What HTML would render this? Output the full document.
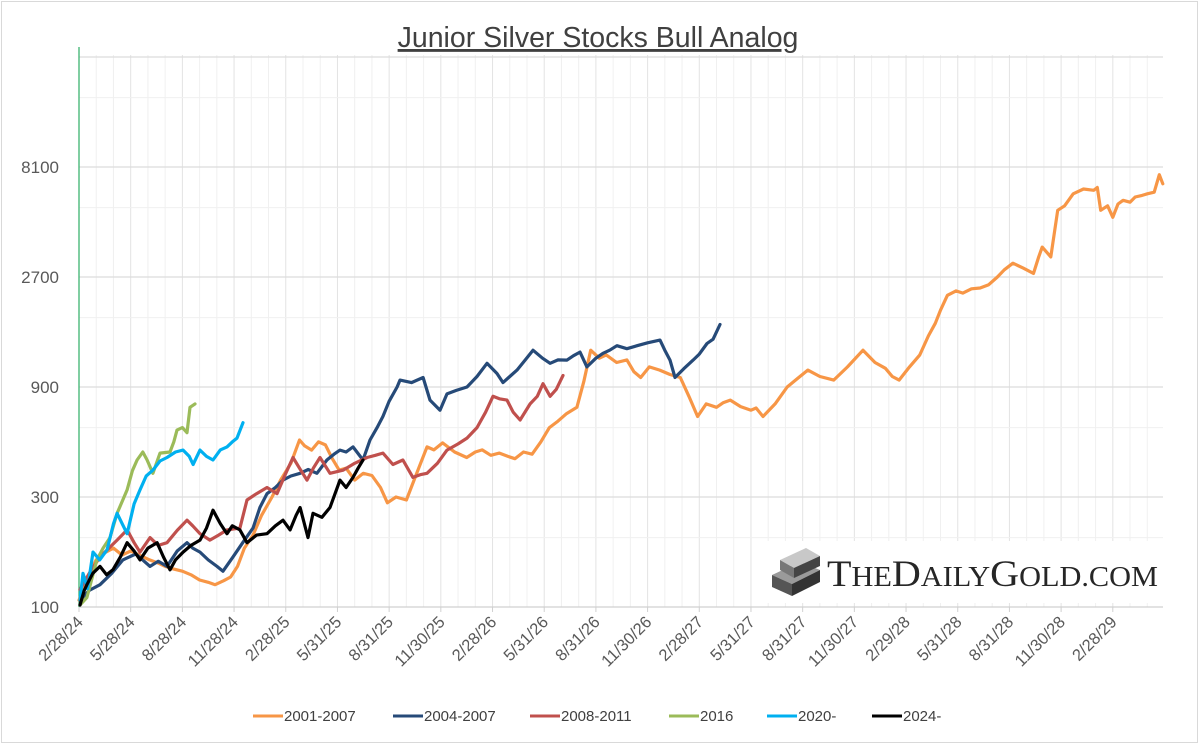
<!DOCTYPE html>
<html><head><meta charset="utf-8"><style>
body{margin:0;background:#fff;}
svg{display:block;font-family:"Liberation Sans",sans-serif;}
</style></head><body>
<svg id="chart" width="1200" height="745" viewBox="0 0 1200 745">
<rect x="1.5" y="1.5" width="1196" height="741" fill="#fff" stroke="#d9d9d9"/>
<text x="598" y="47" text-anchor="middle" font-size="28.5" fill="#404040" text-decoration="underline">Junior Silver Stocks Bull Analog</text>
<g id="grid"></g>
<g id="logo">
<rect x="762" y="541" width="400" height="62" fill="#fff"/>
<g>
<polygon points="772,575 800,562 820,570 792,584" fill="#9a9a9a"/>
<polygon points="772,575 792,584 792,596 772,587" fill="#555"/>
<polygon points="792,584 820,570 820,582 792,596" fill="#333"/>
<polygon points="780,560 806,548 820,556 794,568" fill="#c8c8c8"/>
<polygon points="780,560 794,568 794,578 780,570" fill="#777"/>
<polygon points="794,568 820,556 820,566 794,578" fill="#444"/>
</g>
<text x="827" y="586" font-family="'Liberation Serif',serif" font-size="37" fill="#262626" textLength="331" lengthAdjust="spacingAndGlyphs">T<tspan font-size="28">HE</tspan>D<tspan font-size="28">AILY</tspan>G<tspan font-size="28">OLD.COM</tspan></text>
</g>
<g id="axes"></g>
<g id="series"></g>
<g id="legend"></g>
</svg>
<script>
// ---- data ----
const yTicks = [100, 300, 900, 2700, 8100];
const xTickLabels = ["2/28/24","5/28/24","8/28/24","11/28/24","2/28/25","5/31/25","8/31/25","11/30/25","2/28/26","5/31/26","8/31/26","11/30/26","2/28/27","5/31/27","8/31/27","11/30/27","2/29/28","5/31/28","8/31/28","11/30/28","2/28/29"];
const seriesNames = ["2001-2007","2004-2007","2008-2011","2016","2020-","2024-"];
const seriesColors = ["#f79646","#264a78","#c0504d","#9bbb59","#00b0f0","#000000"];

const m2001 = [0,0.5,1,1.5,2,2.5,3,3.5,4.1,4.6,5,5.5,6,6.5,7,7.5,7.9,8.4,8.8,9.2,9.6,10.1,10.6,11.2,11.7,12.3,12.8,13.1,13.5,13.9,14.3,14.7,15.1,15.5,16,16.5,17,17.5,17.9,18.4,19,19.6,20.2,20.6,21.1,21.8,22.5,23,23.4,23.9,24.4,24.9,25.3,25.8,26.3,26.8,27.3,27.8,28.3,28.9,29.3,29.7,30.2,30.6,31.2,31.8,32.2,32.6,33.1,33.7,34.3,34.9,35.4,35.9,36.4,37,37.4,37.8,38.4,39,39.3,39.7,40.4,41.1,41.7,42.3,43,43.8,44.6,45.5,46.2,46.8,47.2,47.6,48.2,48.8,49.3,49.7,50,50.4,50.9,51.3,51.8,52.3,52.8,53.3,53.7,54.2,54.8,55.4,55.7,55.9,56.4,56.8,57.2,57.7,58.3,58.9,59.1,59.3,59.7,60,60.3,60.6,61,61.3,61.7,62,62.4,62.7,62.9];
const v2001 = [107,135,160,172,180,168,175,168,160,155,150,146,143,138,131,128,125,130,135,150,180,205,250,300,355,420,530,500,479,520,505,440,392,400,355,380,372,330,283,300,291,380,495,480,515,470,445,470,480,455,465,450,440,470,460,520,600,640,690,735,950,1300,1200,1240,1150,1180,1050,990,1100,1065,1020,990,820,670,760,735,770,790,740,714,730,670,760,900,980,1065,1000,964,1100,1300,1150,1085,1000,964,1100,1240,1500,1700,1938,2250,2350,2300,2400,2420,2500,2700,2900,3100,2950,2800,3300,3640,3300,5256,5500,6200,6500,6417,6600,5256,5500,4900,5600,5808,5700,6000,6100,6200,6300,7500,6850];

const m2004 = [0.06,0.6,1.22,1.9,2.55,3.3,4.12,4.6,5.11,5.7,6.27,6.6,7.02,7.5,8.01,8.36,8.94,9.5,10.1,10.5,10.91,11.4,11.84,12.3,12.83,13.3,13.81,14.39,14.8,15.15,15.5,15.9,16.48,16.89,17.3,17.64,18.0,18.46,18.63,19.3,19.97,20.37,20.95,21.36,21.9,22.52,23.1,23.68,24.26,24.61,25.0,25.42,25.9,26.35,26.9,27.34,27.8,28.32,28.7,29.08,29.48,30.0,30.41,30.8,31.22,31.8,32.39,33.0,33.72,34.0,34.3,34.59,35.1,35.64,36.0,36.45,36.8,37.2];
const v2004 = [107,118,125,140,160,170,150,158,150,175,190,180,173,160,150,143,165,190,220,270,310,330,355,370,380,395,380,434,460,479,470,495,434,530,600,670,780,900,964,940,990,790,714,840,870,900,1000,1140,1030,940,1000,1065,1180,1300,1200,1140,1180,1177,1230,1275,1100,1200,1260,1300,1360,1320,1360,1400,1437,1300,1177,990,1080,1177,1250,1390,1450,1680];

const m2008 = [0.06,0.6,1.22,2.21,2.79,3.2,3.54,4.12,4.6,5.11,5.7,6.27,6.6,7.02,7.6,8.1,8.59,9.34,9.75,10.3,10.91,11.49,12.0,12.42,12.8,13.23,13.6,13.99,14.57,15.32,16.0,16.72,17.2,17.64,18.22,18.8,19.38,19.8,20.2,20.8,21.36,22.0,22.52,23.1,23.6,24.03,24.4,24.84,25.2,25.6,26.18,26.6,26.93,27.34,27.7,28.09];
const v2008 = [119,140,165,195,216,190,173,200,185,190,215,238,225,208,195,205,216,220,291,310,330,310,380,445,400,355,400,445,380,392,420,445,455,465,415,434,365,375,380,420,479,510,540,600,700,820,800,790,700,647,760,820,930,820,880,1010];

const m2016 = [0.06,0.46,1.04,1.4,1.8,2.21,2.79,3.1,3.37,3.7,3.95,4.29,4.7,5.28,5.5,5.69,6.0,6.27,6.44,6.73];
const v2016 = [102,110,160,180,200,255,322,390,434,470,434,380,465,470,520,585,600,570,735,760];

const m2020 = [0.06,0.23,0.5,0.81,1.2,1.63,2.0,2.21,2.5,2.79,3.2,3.54,3.9,4.29,4.7,5.11,5.6,6.04,6.4,6.62,7.02,7.4,7.78,8.2,8.59,8.9,9.17,9.52];
const v2020 = [107,140,120,173,160,177,230,255,230,208,280,322,370,392,430,445,470,479,450,415,479,450,434,480,495,520,540,630];

const m2024 = [0.06,0.3,0.46,0.8,1.22,1.6,1.97,2.4,2.79,3.2,3.54,4.0,4.53,4.9,5.28,5.6,6.04,6.5,7.02,7.4,7.78,8.2,8.59,8.9,9.34,9.75,10.3,10.91,11.4,11.84,12.25,12.6,12.83,13.29,13.58,14.1,14.57,15.15,15.5,15.9,16.2,16.48];
const v2024 = [102,118,125,140,150,138,145,165,190,175,160,180,190,165,145,160,173,185,195,220,263,230,208,225,216,190,205,208,225,238,216,250,270,200,255,245,270,355,330,365,400,434];

const seriesM = [m2001,m2004,m2008,m2016,m2020,m2024];
const seriesV = [v2001,v2004,v2008,v2016,v2020,v2024];

// ---- scales ----
const X0 = 79, MONTH = 17.23, XR = 1163;
const Y100 = 607, PER3 = 110, YTOP = 55;
function xs(m){ return X0 + m*MONTH; }
function ys(v){ return Y100 - PER3*Math.log(v/100)/Math.log(3); }

const NS = "http://www.w3.org/2000/svg";
function mk(tag, attrs, parent){
  const e = document.createElementNS(NS, tag);
  for (const k in attrs) e.setAttribute(k, attrs[k]);
  parent.appendChild(e);
  return e;
}
const grid = document.getElementById('grid');
const axes = document.getElementById('axes');
const series = document.getElementById('series');
const legend = document.getElementById('legend');

for (let m = 1; xs(m) <= XR; m++){
  const ln = mk('line', {x1:xs(m), x2:xs(m), y1:YTOP, y2:Y100, stroke: m%3===0 ? '#e3e3e3' : '#f0f0f0', 'stroke-width':1}, grid);
  
  
}
[200,600,1800,5400,16200].forEach(v=>{
  const ln = mk('line', {x1:X0, x2:XR, y1:ys(v), y2:ys(v), stroke:'#f0f0f0', 'stroke-width':1}, grid);
  
  
});
yTicks.concat([24300]).forEach(v=>{
  const y = ys(v);
  const ln = mk('line', {x1:X0, x2:XR, y1:y, y2:y, stroke: v===100 ? '#d0d0d0' : '#dcdcdc', 'stroke-width':1.3}, grid);
  
  
});
yTicks.forEach(v=>{
  const y = ys(v);
  const t = mk('text', {x:59, y:y+6, 'text-anchor':'end', 'font-size':17, fill:'#595959'}, axes);
  t.textContent = v;
  
  
});
const yax = mk('line', {x1:X0, x2:X0, y1:47, y2:Y100, stroke:'#3cb371', 'stroke-width':1.3}, axes);


xTickLabels.forEach((lab,i)=>{
  const x = xs(i*3);
  const tk = mk('line', {x1:x, x2:x, y1:Y100, y2:Y100+5, stroke:'#d0d0d0', 'stroke-width':1}, axes);
  
  
  const t = mk('text', {x:x+5, y:Y100+16, 'text-anchor':'end', 'font-size':16.5, fill:'#595959', transform:`rotate(-45 ${x+5} ${Y100+16})`}, axes);
  t.textContent = lab;
  
  
});
seriesNames.forEach((nm,i)=>{
  const pts = seriesM[i].map((m,j)=>xs(m).toFixed(1)+','+ys(seriesV[i][j]).toFixed(1)).join(' ');
  const pl = mk('polyline', {points:pts, fill:'none', stroke:seriesColors[i], 'stroke-width':3.2, 'stroke-linejoin':'round', 'stroke-linecap':'round'}, series);
  
  
});
const legendX = [253,393,530,669,767,872];
seriesNames.forEach((nm,i)=>{
  const g = mk('g', {}, legend);
  
  
  mk('line', {x1:legendX[i], x2:legendX[i]+30, y1:716, y2:716, stroke:seriesColors[i], 'stroke-width':3}, g);
  const t = mk('text', {x:legendX[i]+31, y:721, 'font-size':15, fill:'#404040'}, g);
  t.textContent = nm;
});
</script>
</body></html>
